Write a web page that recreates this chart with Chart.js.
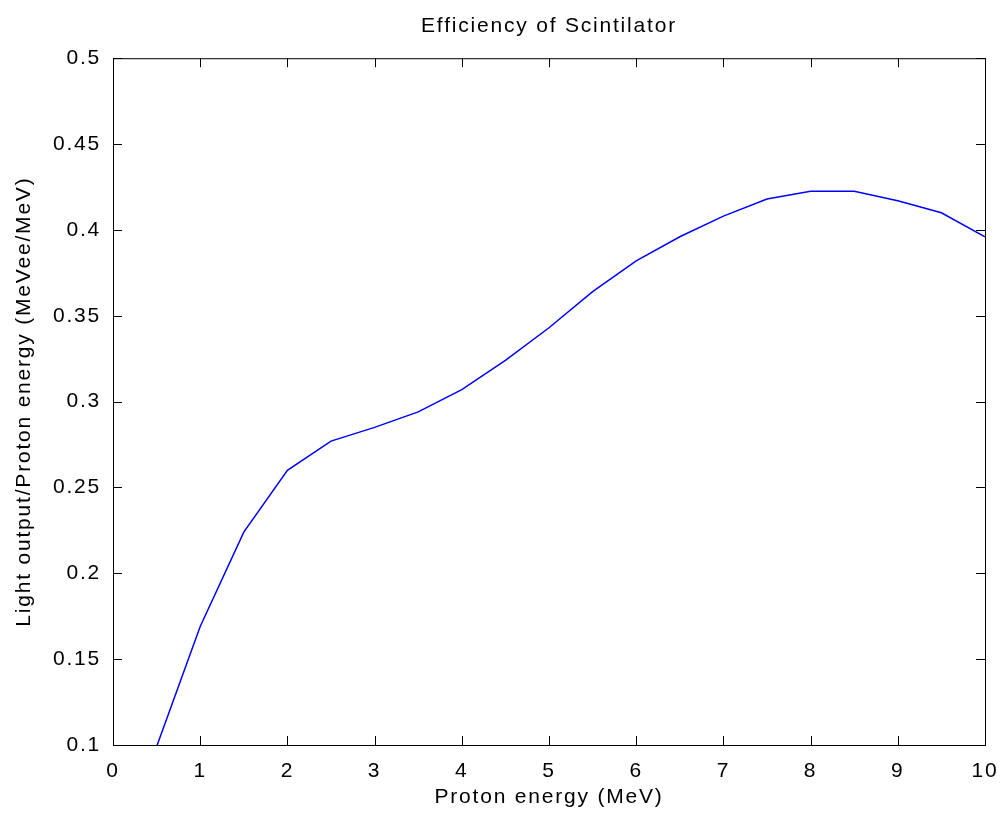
<!DOCTYPE html>
<html>
<head>
<meta charset="utf-8">
<script src="https://cdn.jsdelivr.net/npm/chart.js@4/dist/chart.umd.min.js"></script>
<style>
  html, body { margin: 0; padding: 0; background: #fff; }
  #wrap { width: 1000px; height: 816px; }
</style>
</head>
<body>
<div id="wrap"><canvas id="chartEff"></canvas></div>
<script>
// ---- data ----
const ENERGY = [0.5, 1, 1.5, 2, 2.5, 3, 3.5, 4, 4.5, 5, 5.5, 6, 6.5, 7, 7.5, 8, 8.5, 9, 9.5, 10];
const EFFIC  = [0.099, 0.169, 0.224, 0.260, 0.277, 0.285, 0.294, 0.307, 0.324, 0.343, 0.364, 0.382, 0.396, 0.408, 0.418, 0.4225, 0.4225, 0.417, 0.410, 0.396];

const K = '#000';
const F = "'Liberation Sans', Arial, sans-serif";
const SP = '1.8px'; // wide letter spacing like the old MATLAB bitmap font

// spacing must be set before measuring and before drawing (canvas resize resets it)
const spacing = {
  id: 'spacing',
  beforeUpdate(chart) { chart.ctx.letterSpacing = SP; },
  beforeDraw(chart)   { chart.ctx.letterSpacing = SP; }
};

// box frame + inward ticks, MATLAB style
const frame = {
  id: 'frame',
  afterDraw(chart) {
    const { ctx, chartArea: a, scales: { x, y } } = chart;
    const L = 9;
    ctx.save();
    ctx.strokeStyle = K;
    ctx.lineWidth = 1;
    ctx.strokeRect(a.left + 0.5, a.top + 0.5, a.right - a.left, a.bottom - a.top);
    ctx.beginPath();
    x.ticks.forEach(t => {
      const px = Math.round(x.getPixelForValue(t.value)) + 0.5;
      ctx.moveTo(px, a.bottom); ctx.lineTo(px, a.bottom - L);
      ctx.moveTo(px, a.top);    ctx.lineTo(px, a.top + L);
    });
    y.ticks.forEach(t => {
      const py = Math.round(y.getPixelForValue(t.value)) + 0.5;
      ctx.moveTo(a.left, py);  ctx.lineTo(a.left + L, py);
      ctx.moveTo(a.right, py); ctx.lineTo(a.right - L, py);
    });
    ctx.stroke();
    ctx.restore();
  }
};

new Chart(document.getElementById('chartEff'), {
  type: 'line',
  data: {
    datasets: [{
      data: ENERGY.map((e, i) => ({ x: e, y: EFFIC[i] })),
      borderColor: '#0000ff', borderWidth: 1.5, pointRadius: 0, tension: 0, fill: false
    }]
  },
  options: {
    responsive: true, maintainAspectRatio: false, animation: false,
    layout: { padding: { left: 8, right: 15, top: 10, bottom: 2 } },
    plugins: {
      legend: { display: false },
      tooltip: { enabled: false },
      title: {
        display: true, fullSize: false, text: 'Efficiency of Scintilator', color: K,
        font: { family: F, size: 21, weight: 'normal' }, padding: { top: 4, bottom: 19 }
      }
    },
    scales: {
      x: {
        type: 'linear', min: 0, max: 10,
        ticks: { stepSize: 1, color: K, padding: 6, font: { family: F, size: 21 } },
        grid: { display: false },
        border: { display: false },
        title: { display: true, text: 'Proton energy (MeV)', color: K, font: { family: F, size: 21 } },
        afterFit: s => { s.height = 69; s.paddingLeft = 0; s.paddingRight = 0; }
      },
      y: {
        min: 0.1, max: 0.5,
        ticks: {
          stepSize: 0.05, color: K, padding: 4, font: { family: F, size: 21 },
          callback: v => String(+v.toFixed(2))
        },
        grid: { display: false },
        border: { display: false },
        title: { display: true, text: 'Light output/Proton energy (MeVee/MeV)', color: K, font: { family: F, size: 21 } },
        afterFit: s => { s.width = 105; }
      }
    }
  },
  plugins: [spacing, frame]
});
</script>
</body>
</html>
